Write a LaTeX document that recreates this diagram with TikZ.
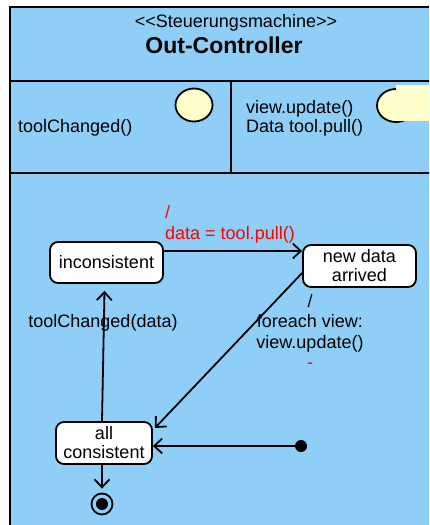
\documentclass[tikz,border=0pt]{standalone}
\usepackage{fontspec}
\setmainfont{Liberation Sans}
\usetikzlibrary{arrows.meta,shapes.geometric}
\definecolor{bgblue}{RGB}{143,206,247}
\definecolor{lightyellow}{RGB}{255,255,204}
\definecolor{lblred}{RGB}{255,0,0}
\tikzset{
  txt/.style={font=\fontsize{18}{19}\selectfont, inner sep=0pt},
  statebox/.style={draw, fill=white, rounded corners=8pt, line width=1.8pt,
     inner sep=0pt, align=center, font=\fontsize{18}{19}\selectfont},
  conn/.style={line width=1.8pt, -{Straight Barb[length=8pt,width=15pt,line width=1.8pt]}},
  frame/.style={line width=1.8pt},
  marker/.style={draw, fill=lightyellow, line width=1.8pt}
}
\begin{document}
\begin{tikzpicture}[x=1pt,y=-1pt]
\clip (0,0) rectangle (429,525);
\fill[white] (0,0) rectangle (429,525);
% outer frame
\draw[frame, fill=bgblue] (10,7) rectangle (440,540);
\draw[frame] (10,81) -- (440,81);
\draw[frame] (10,173) -- (440,173);
\draw[frame] (231,81) -- (231,173);
% header
\node[txt] (stereo) at (236,23) {<{}<Steuerungsmachine>{}>};
\node[inner sep=0pt, font=\fontsize{23}{24}\selectfont\bfseries] (title) at (224,45) {Out-Controller};
% compartments
\node[txt, anchor=west] (tc) at (18,128) {toolChanged()};
\node[marker, ellipse, minimum width=37pt, minimum height=33pt, inner sep=0pt] (lollipop) at (194,105) {};
\node[txt, anchor=west, align=left] (ops) at (246,118.5) {view.update()\\Data tool.pull()};
\node[marker, minimum width=38pt, minimum height=33pt, inner sep=0pt, ellipse] (socket) at (396,105.5) {};
\fill[lightyellow] (396,85) rectangle (430,121);
% states
\node[statebox, minimum width=113pt, minimum height=41pt] (inc) at (106.5,262.5) {inconsistent};
\node[statebox, minimum width=113pt, minimum height=42pt] (new) at (359.5,266) {new data\\arrived};
\node[statebox, minimum width=96pt, minimum height=42pt] (all) at (104,443) {all\\consistent};
\node[circle, fill=black, minimum size=12pt, inner sep=0pt] (init) at (301,446) {};
\node[circle, draw, line width=1.8pt, minimum size=21pt, inner sep=0pt] (final) at (102,504) {};
\node[circle, fill=black, minimum size=12pt, inner sep=0pt] (finaldot) at (102,504) {};
% transitions
\draw[conn] ([yshift=11.5pt]inc.east) -- ([yshift=15pt]new.west);
\node[txt, anchor=north west, align=left, text=lblred, font=\fontsize{18}{21}\selectfont] (lbl1) at (165,205) {/\\data = tool.pull()};
\draw[conn] ([xshift=-2pt]all.north) -- ([xshift=-2pt, yshift=-7pt]inc.south);
\node[txt] (lbl2) at (103,323) {toolChanged(data)};
\draw[conn] ([yshift=-7pt]new.west) -- ([xshift=2pt, yshift=15pt]all.east);
\node[txt, align=center, anchor=north, font=\fontsize{18}{20.5}\selectfont] (lbl3) at (310,294) {/\\foreach view:\\view.update()\\\textcolor{lblred}{-}};
\draw[conn] (init.center) -- (init.center -| all.east);
\draw[conn, shorten >=4pt] (all.south -| final.north) -- (final.north);
\end{tikzpicture}
\end{document}
